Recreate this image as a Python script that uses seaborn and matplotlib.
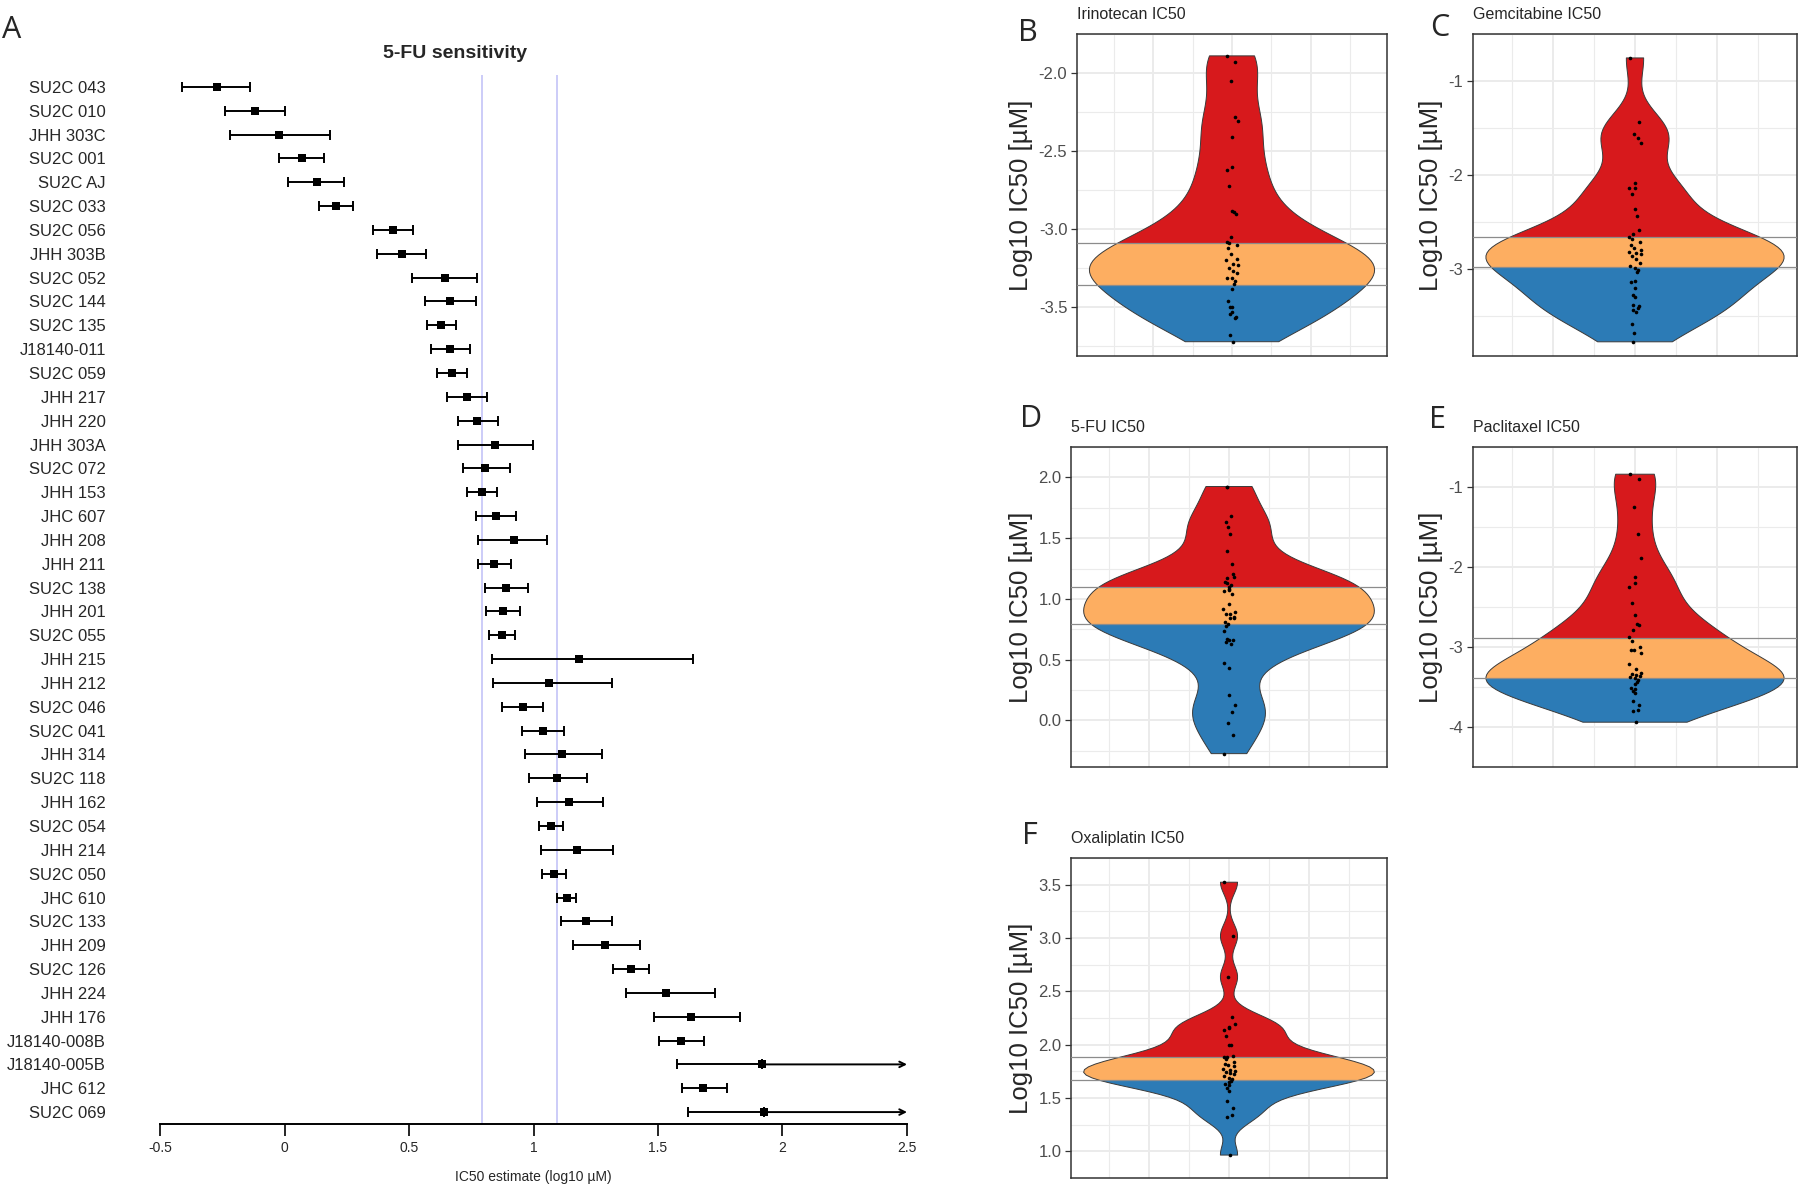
import numpy as np
import pandas as pd
import seaborn as sns
import matplotlib.pyplot as plt

W, H = 1800, 1185

# ---- panel A: 5-FU IC50 estimates per line ----
lines = ["SU2C 043", "SU2C 010", "JHH 303C", "SU2C 001", "SU2C AJ", "SU2C 033",
         "SU2C 056", "JHH 303B", "SU2C 052", "SU2C 144", "SU2C 135", "J18140-011",
         "SU2C 059", "JHH 217", "JHH 220", "JHH 303A", "SU2C 072", "JHH 153",
         "JHC 607", "JHH 208", "JHH 211", "SU2C 138", "JHH 201", "SU2C 055",
         "JHH 215", "JHH 212", "SU2C 046", "SU2C 041", "JHH 314", "SU2C 118",
         "JHH 162", "SU2C 054", "JHH 214", "SU2C 050", "JHC 610", "SU2C 133",
         "JHH 209", "SU2C 126", "JHH 224", "JHH 176", "J18140-008B", "J18140-005B",
         "JHC 612", "SU2C 069"]
est = [-0.273, -0.118, -0.023, 0.069, 0.129, 0.208, 0.435, 0.470, 0.643, 0.664,
       0.629, 0.664, 0.672, 0.734, 0.775, 0.844, 0.807, 0.792, 0.848, 0.921,
       0.842, 0.889, 0.877, 0.874, 1.183, 1.063, 0.958, 1.038, 1.113, 1.095,
       1.143, 1.070, 1.174, 1.084, 1.134, 1.209, 1.289, 1.391, 1.532, 1.633,
       1.591, 1.918, 1.680, 1.925]
ci_lo = [-0.410, -0.237, -0.220, -0.023, 0.015, 0.139, 0.356, 0.373, 0.512, 0.563,
         0.572, 0.587, 0.613, 0.654, 0.695, 0.698, 0.716, 0.733, 0.769, 0.778,
         0.778, 0.806, 0.809, 0.822, 0.832, 0.836, 0.872, 0.955, 0.967, 0.982,
         1.013, 1.023, 1.030, 1.035, 1.096, 1.110, 1.157, 1.320, 1.372, 1.482,
         1.506, 1.577, 1.598, 1.619]
ci_hi = [-0.138, 0.000, 0.183, 0.160, 0.237, 0.277, 0.515, 0.570, 0.775, 0.768,
         0.689, 0.743, 0.731, 0.815, 0.857, 0.999, 0.904, 0.853, 0.930, 1.056,
         0.908, 0.976, 0.945, 0.926, 1.640, 1.317, 1.039, 1.124, 1.274, 1.216,
         1.281, 1.119, 1.320, 1.129, 1.171, 1.315, 1.426, 1.464, 1.730, 1.829,
         1.685, np.inf, 1.777, np.inf]
fu_thresholds = [0.792, 1.096]

# ---- panels B-F: log10 IC50 per drug ----
irinotecan = [-1.89, -1.93, -2.05, -2.28, -2.31, -2.41, -2.60, -2.62, -2.72, -2.88,
              -2.89, -2.90, -3.05, -3.08, -3.09, -3.10, -3.12, -3.16, -3.19, -3.20,
              -3.22, -3.23, -3.25, -3.27, -3.28, -3.31, -3.31, -3.33, -3.35, -3.38,
              -3.46, -3.50, -3.50, -3.53, -3.54, -3.56, -3.57, -3.68, -3.72]
gemcitabine = [-0.755, -1.44, -1.57, -1.61, -1.66, -2.09, -2.14, -2.14, -2.21, -2.37,
               -2.44, -2.59, -2.63, -2.66, -2.68, -2.72, -2.75, -2.78, -2.80, -2.82,
               -2.83, -2.84, -2.87, -2.90, -2.94, -2.97, -2.99, -3.01, -3.04, -3.13,
               -3.14, -3.21, -3.28, -3.30, -3.39, -3.40, -3.42, -3.44, -3.46, -3.59,
               -3.69, -3.78]
fluorouracil = est
paclitaxel = [-0.84, -0.894, -1.251, -1.586, -1.893, -2.126, -2.204, -2.253, -2.444,
              -2.603, -2.708, -2.719, -2.786, -2.881, -2.927, -2.998, -3.033, -3.040,
              -3.075, -3.210, -3.270, -3.323, -3.333, -3.351, -3.365, -3.376, -3.393,
              -3.418, -3.432, -3.464, -3.510, -3.520, -3.552, -3.570, -3.676, -3.729,
              -3.792, -3.799, -3.940]
oxaliplatin = [3.523, 3.019, 2.635, 2.262, 2.198, 2.168, 2.154, 2.139, 2.081, 1.999,
               1.994, 1.897, 1.889, 1.883, 1.868, 1.839, 1.819, 1.810, 1.801, 1.772,
               1.760, 1.752, 1.740, 1.737, 1.723, 1.710, 1.690, 1.679, 1.664, 1.650,
               1.635, 1.621, 1.592, 1.562, 1.475, 1.402, 1.338, 1.323, 0.965]

thresholds = {
    "Irinotecan IC50": (-3.354, -3.085),
    "Gemcitabine IC50": (-2.98, -2.66),
    "5-FU IC50": (0.792, 1.096),
    "Paclitaxel IC50": (-3.39, -2.89),
    "Oxaliplatin IC50": (1.670, 1.889),
}

RED, ORANGE, BLUE = "#D7191C", "#FDAE61", "#2C7BB6"

sns.set_theme(style="white")
plt.rcParams["font.family"] = ["Liberation Sans", "DejaVu Sans"]
plt.rcParams["axes.unicode_minus"] = False


def box(x0, y0, x1, y1):
    return [x0 / W, 1 - y1 / H, (x1 - x0) / W, (y1 - y0) / H]


fig = plt.figure(figsize=(W / 100, H / 100), dpi=100)

# ---------------- panel A ----------------
ax = fig.add_axes(box(160, 75, 907, 1124))
df = pd.DataFrame({"line": lines, "est": est, "lo": ci_lo, "hi": ci_hi})
df["pos"] = np.arange(len(df))

for t in fu_thresholds:
    ax.axvline(t, color="#c8c8f8", lw=1.3, zorder=0)

fin = np.isfinite(df["hi"])
d = df[fin]
ax.errorbar(d["est"], d["pos"], xerr=[d["est"] - d["lo"], d["hi"] - d["est"]],
            fmt="none", ecolor="black", elinewidth=1.4, capsize=3.5, capthick=1.4, zorder=2)
d = df[~fin]
ax.errorbar(d["est"], d["pos"], xerr=[d["est"] - d["lo"], 0 * d["est"]],
            fmt="none", ecolor="black", elinewidth=1.4, capsize=3.5, capthick=1.4, zorder=2)
for _, r in d.iterrows():
    ax.annotate("", xy=(2.5, r["pos"]), xytext=(r["est"], r["pos"]),
                arrowprops=dict(arrowstyle="->", lw=1.4, color="black",
                                shrinkA=0, shrinkB=0, mutation_scale=10))

sns.scatterplot(data=df, x="est", y="pos", marker="s", s=26, color="black",
                linewidth=0, ax=ax, zorder=3, legend=False)

ax.set_xlim(-0.5, 2.5)
ax.set_ylim(len(df) - 0.5, -0.5)
ax.set_yticks(df["pos"])
ax.set_yticklabels(df["line"], fontsize=12)
ax.set_xticks([-0.5, 0, 0.5, 1, 1.5, 2, 2.5])
ax.set_xticklabels(["-0.5", "0", "0.5", "1", "1.5", "2", "2.5"], fontsize=10)
ax.tick_params(axis="y", length=0, pad=39)
ax.tick_params(axis="x", length=8.5, width=1.2, color="black", pad=4, bottom=True)
ax.set_xlabel("")
ax.set_ylabel("")
for s in ["left", "top", "right"]:
    ax.spines[s].set_visible(False)
ax.spines["bottom"].set_color("black")
ax.spines["bottom"].set_linewidth(1.4)
fig.text(533 / W, 1 - 1177 / H, "IC50 estimate (log10 µM)", fontsize=10,
         ha="center", va="center")
fig.text(455 / W, 1 - 54 / H, "5-FU sensitivity", fontsize=14, fontweight="bold",
         ha="center", va="center")


# ---------------- panels B-F ----------------
def violin_panel(rect, vals, title, ticks, fmt):
    ax = fig.add_axes(box(*rect))
    vals = np.asarray(vals, dtype=float)
    t_lo, t_hi = thresholds[title]
    sd = vals.std(ddof=1)
    q75, q25 = np.percentile(vals, [75, 25])
    bw = 0.9 * min(sd, (q75 - q25) / 1.34) * len(vals) ** -0.2 / sd

    sns.violinplot(y=vals, ax=ax, cut=0, inner=None, width=0.92, bw_method=bw,
                   color="white", linecolor="#3a3a3a", linewidth=0.7)
    poly = ax.collections[0]
    poly.set_facecolor("none")
    poly.set_zorder(3)
    path = poly.get_paths()[0]
    lo, hi = vals.min(), vals.max()
    for y0, y1, c in [(lo - 1, t_lo, BLUE), (t_lo, t_hi, ORANGE), (t_hi, hi + 1, RED)]:
        band = ax.axhspan(y0, y1, color=c, lw=0, zorder=2)
        band.set_clip_path(path, poly.get_transform())
    for t in (t_lo, t_hi):
        ax.axhline(t, color="#8c8c8c", lw=0.9, zorder=3.5)

    np.random.seed(7)
    sns.stripplot(y=vals, ax=ax, color="black", size=2.6, jitter=0.02, zorder=4)

    pad = 0.05 * (hi - lo)
    ax.set_xlim(-0.5, 0.5)
    ax.set_ylim(lo - pad, hi + pad)
    step = ticks[1] - ticks[0]
    ax.set_yticks(ticks)
    ax.set_yticklabels([fmt % t for t in ticks])
    ax.set_yticks(np.arange(ticks[0] - step / 2, ticks[-1] + step, step), minor=True)
    ax.set_xticks([-0.254, 0, 0.254])
    ax.set_xticks([-0.381, -0.127, 0.127, 0.381], minor=True)
    ax.grid(which="major", color="#EBEBEB", lw=1.4)
    ax.grid(which="minor", color="#EBEBEB", lw=0.8)
    ax.set_axisbelow(True)
    ax.tick_params(axis="x", which="both", length=0, labelbottom=False)
    ax.tick_params(axis="y", which="major", length=4, width=0.9, color="#333333",
                   labelsize=12, labelcolor="#4D4D4D", pad=3, left=True)
    ax.tick_params(axis="y", which="minor", length=0)
    for s in ax.spines.values():
        s.set_visible(True)
        s.set_color("#333333")
        s.set_linewidth(1.1)
    ax.set_xlabel("")
    ax.set_ylabel("Log10 IC50 [µM]", fontsize=18.5, labelpad=4)
    ax.set_title(title, loc="left", fontsize=11.5, pad=11)
    return ax


violin_panel((1077, 34, 1387, 356), irinotecan, "Irinotecan IC50",
             [-3.5, -3.0, -2.5, -2.0], "%.1f")
violin_panel((1473, 34, 1797, 356), gemcitabine, "Gemcitabine IC50",
             [-3, -2, -1], "%d")
violin_panel((1071, 447, 1387, 767), fluorouracil, "5-FU IC50",
             [0.0, 0.5, 1.0, 1.5, 2.0], "%.1f")
violin_panel((1473, 447, 1797, 767), paclitaxel, "Paclitaxel IC50",
             [-4, -3, -2, -1], "%d")
violin_panel((1071, 858, 1387, 1178), oxaliplatin, "Oxaliplatin IC50",
             [1.0, 1.5, 2.0, 2.5, 3.0, 3.5], "%.1f")

# panel letters
for letter, (x, y) in {"A": (12, 30), "B": (1028, 33), "C": (1440, 28),
                       "D": (1031, 419), "E": (1437, 420), "F": (1030, 836)}.items():
    fig.text(x / W, 1 - y / H, letter, fontsize=22, family=["Open Sans", "DejaVu Sans"],
             ha="center", va="center")

fig.savefig("out.png", dpi=100)
